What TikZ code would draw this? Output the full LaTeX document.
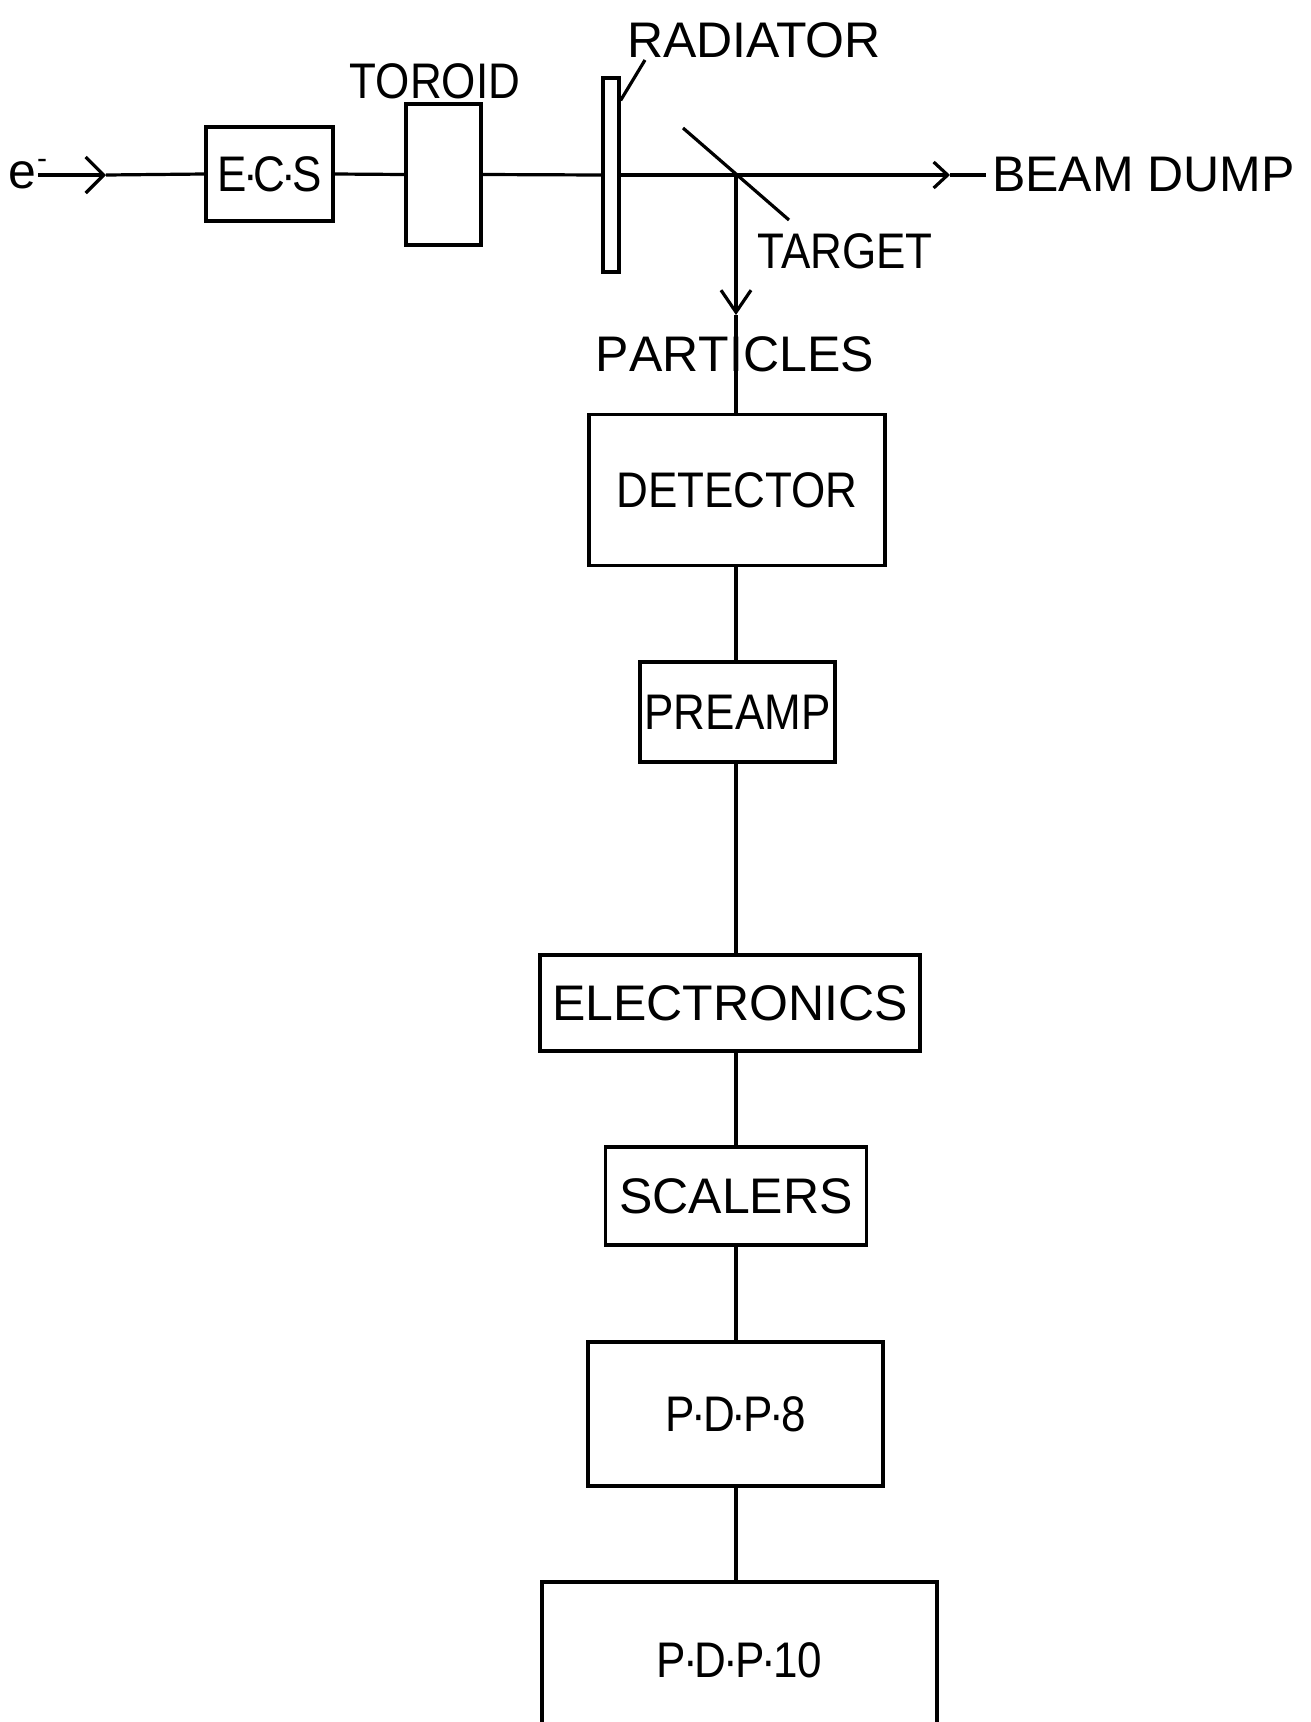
\documentclass[tikz,border=0pt]{standalone}
\usepackage{fontspec}
\setmainfont{Liberation Sans}
\newfontfamily\narrowfont[FakeStretch=0.88]{Liberation Sans}
\newfontfamily\nokernfont[Kerning=Off]{Liberation Sans}
\usetikzlibrary{arrows.meta}
\begin{document}
\begin{tikzpicture}[x=1pt,y=-1pt,
  lw/.style={line width=3.2pt},
  blk/.style={draw, line width=3.2pt, inner sep=0pt, font=\fontsize{50}{60}\selectfont},
  nblk/.style={blk, font=\fontsize{50}{60}\selectfont\narrowfont},
  lbl/.style={inner sep=0pt, font=\fontsize{50}{60}\selectfont},
  nlbl/.style={lbl, font=\fontsize{50}{60}\selectfont\narrowfont},
  bigtip/.style={-{Straight Barb[length=18pt,width=36pt]}},
  midtip/.style={-{Straight Barb[length=22pt,width=30pt]}},
  smalltip/.style={-{Straight Barb[length=14pt,width=26pt]}}
]
\path[use as bounding box] (0,0) rectangle (1310,1722);
\clip (0,0) rectangle (1310,1722);

% beam line components
\node[lbl, anchor=base west] (e) at (8,188) {e\kern1pt\raisebox{20pt}{\fontsize{30}{30}\selectfont -}};
\node[nblk, minimum width=127, minimum height=94] (ecs) at (269.5,174) {E\kern-4pt·\kern-4pt C\kern-4pt·\kern-4pt S};
\node[blk, minimum width=75, minimum height=141] (tor) at (443.5,174.5) {};
\node[nlbl] (torl) at (435,81) {TOROID};
\node[blk, fill=white, minimum width=16, minimum height=194] (rad) at (611,175) {};
\node[lbl] (radl) at (754,40) {RADIATOR};
\node[lbl, anchor=west] (dump) at (992,175) {BEAM DUMP};
\node[nlbl] (tgtl) at (845,251) {TARGET};
\node[lbl, anchor=west, font=\fontsize{50}{60}\selectfont\nokernfont] (part) at (595.7,354) {PARTICLES};

\coordinate (b0) at (38,175);
\coordinate (a1) at (106,175);
\coordinate (x) at (736,175);
\coordinate (a2) at (950,175);
\coordinate (a3) at (736,315);
\coordinate (t1) at (683,128);
\coordinate (t2) at (789,220);
\coordinate (r1) at (645,60);

\draw[lw, bigtip] (b0) -- (a1);
\draw[lw] (a1) -- (ecs.west);
\draw[lw] (ecs.east) -- (tor.west);
\draw[lw] (tor.east) -- (rad.west);
\draw[lw] (rad.east) -- (x);
\draw[lw, smalltip] (x) -- (a2);
\draw[lw, shorten >=6pt] (a2) -- (dump.west);
\draw[lw] (t1) -- (t2);
\draw[lw] ([yshift=-24pt]rad.north east) -- (r1);

% processing chain
\node[nblk, minimum width=296, minimum height=151] (det) at (737,490) {DETECTOR};
\node[nblk, minimum width=195, minimum height=100] (pre) at (737.5,712) {PREAMP};
\node[blk, minimum width=380, minimum height=96] (ele) at (730,1003) {ELECTRONICS};
\node[blk, minimum width=261, minimum height=98] (sca) at (736,1196) {SCALERS};
\node[nblk, minimum width=295, minimum height=144] (p8) at (735.5,1414) {P\kern-3pt·\kern-3pt D\kern-3pt·\kern-3pt P\kern-3pt·\kern-3pt 8};
\node[nblk, minimum width=395, minimum height=156] (p10) at (739.5,1660) {P\kern-3pt·\kern-3pt D\kern-3pt·\kern-3pt P\kern-3pt·\kern-3pt 10};

\draw[lw, midtip] (x) -- (a3);
\draw[lw] (a3) -- (det.north -| x);
\draw[lw] (det.south -| x) -- (pre.north -| x);
\draw[lw] (pre.south -| x) -- (ele.north -| x);
\draw[lw] (ele.south -| x) -- (sca.north -| x);
\draw[lw] (sca.south -| x) -- (p8.north -| x);
\draw[lw] (p8.south -| x) -- (p10.north -| x);
\end{tikzpicture}
\end{document}
